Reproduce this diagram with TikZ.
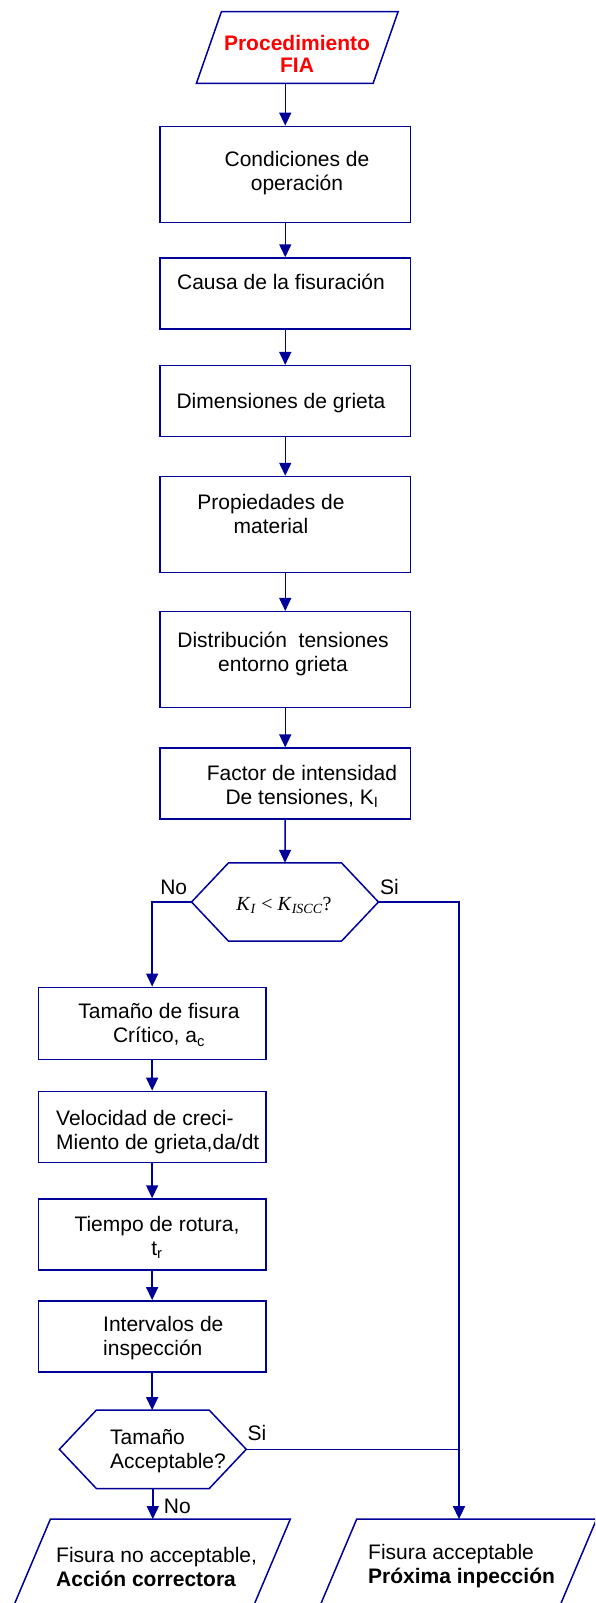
\documentclass[tikz,border=0pt]{standalone}
\usepackage{fontspec}
\setmainfont{Liberation Sans}
\newfontfamily\timesfont{Liberation Serif}
\usepackage{tikz}
\usetikzlibrary{arrows.meta,calc}
\definecolor{flowblue}{RGB}{0,0,153}
\tikzset{
LINE/.style ={draw=flowblue,line join=miter,line width=1.5pt},
ARROW/.style ={LINE,-{Triangle[length=13pt,width=12pt]}},
BOX/.style ={LINE,rectangle,minimum width=250.5pt,minimum height=71pt,inner sep=0pt},
TALLBOX/.style ={BOX,minimum height=96pt},
LEFTBOX/.style ={BOX,minimum width=227.7pt},
HOLDER/.style ={rectangle,inner sep=0pt,minimum width=186.5pt,minimum height=78pt},
TEXT/.style ={inner sep=0pt,align=center,font=\fontsize{21}{24}\selectfont},
LTEXT/.style ={TEXT,align=left,anchor=west},
}
\newcommand{\hexagonat}[1]{\draw[LINE] (#1.west) -- ($(#1.north west)+(37,0)$) -- ($(#1.north east)-(37,0)$) -- (#1.east) -- ($(#1.south east)-(37,0)$) -- ($(#1.south west)+(37,0)$) -- cycle;}
\newcommand{\parallelat}[2]{\draw[LINE] (#1.south west) -- ($(#1.north west)+(#2,0)$) -- (#1.north east) -- ($(#1.south east)-(#2,0)$) -- cycle;}

\begin{document}
\begin{tikzpicture}[x=1pt,y=-1pt] %FIA flowchart
	\useasboundingbox (0,0) rectangle (595,1603);
	\clip (0,0) rectangle (595,1603);
	% main column
	\node[HOLDER,minimum width=201.3pt,minimum height=71.3pt] (proc) at (297.3,47.4) {};
	\parallelat{proc}{25}
	\node[TEXT,text=red,font=\fontsize{21}{22}\selectfont\bfseries] (procT) at (297,54) {Procedimiento\\FIA};
	\node[TALLBOX] (cond) at (285.25,174.35) {};
	\node[TEXT] (condT) at (297,173.5) {Condiciones de\\operación};
	\node[BOX] (causa) at (285.25,293.5) {};
	\node[TEXT] (causaT) at (281,281.7) {Causa de la fisuración};
	\node[BOX] (dimen) at (285.25,401.2) {};
	\node[TEXT] (dimenT) at (281,403) {Dimensiones de grieta};
	\node[TALLBOX] (prop) at (285.25,524.5) {};
	\node[TEXT] (propT) at (271,514) {Propiedades de\\material};
	\node[TALLBOX] (distr) at (285.25,659.7) {};
	\node[TEXT] (distrT) at (283,653.5) {Distribución\ \ tensiones\\entorno grieta};
	\node[BOX] (factor) at (285.25,783.65) {};
	\node[TEXT] (factorT) at (302,786) {Factor de intensidad\\De tensiones, K\textsubscript{I}};
	\node[HOLDER] (hexA) at (285,902) {};
	\hexagonat{hexA}
	\node[TEXT,font=\timesfont\fontsize{20}{24}\selectfont] (hexAT) at (284,905) {\textit{K}\textsubscript{\textit{I}} < \textit{K}\textsubscript{\textit{ISCC}}?};
	% left column
	\node[LEFTBOX,minimum height=72pt] (tam) at (152.15,1023.3) {};
	\node[TEXT] (tamT) at (159,1025) {Tamaño de fisura\\Crítico, a\textsubscript{c}};
	\node[LEFTBOX] (vel) at (152.15,1126.85) {};
	\node[LTEXT] (velT) at (56,1132) {Velocidad de creci-\\Miento de grieta,da/dt};
	\node[LEFTBOX] (tiempo) at (152.15,1234.5) {};
	\node[TEXT] (tiempoT) at (157,1237.5) {Tiempo de rotura,\\t\textsubscript{r}};
	\node[LEFTBOX] (interv) at (152.15,1336.35) {};
	\node[LTEXT] (intervT) at (103,1338.5) {Intervalos de\\inspección};
	\node[HOLDER] (hexB) at (152.8,1449.3) {};
	\hexagonat{hexB}
	\node[LTEXT] (hexBT) at (110,1451) {Tamaño\\Acceptable?};
	% results
	\node[HOLDER,minimum width=282pt,minimum height=100pt] (nok) at (149.1,1569.3) {};
	\parallelat{nok}{42.5}
	\node[LTEXT] (nokT) at (56,1566.5) {Fisura no acceptable,\\\textbf{Acción correctora}};
	\node[HOLDER,minimum width=282pt,minimum height=100pt] (okp) at (455.4,1569.3) {};
	\parallelat{okp}{42.5}
	\node[LTEXT] (okT) at (368,1566.5) {Fisura acceptable\\\textbf{Próxima inpección}};
	% connectors
	\draw[ARROW] (proc.south -| cond.north) -- (cond.north);
	\draw[ARROW] (cond) -- (causa);
	\draw[ARROW] (causa) -- (dimen);
	\draw[ARROW] (dimen) -- (prop);
	\draw[ARROW] (prop) -- (distr);
	\draw[ARROW] (distr) -- (factor);
	\draw[ARROW] (factor.south) -- (hexA.north);
	\draw[ARROW] (hexA.west) -| (tam.north);
	\coordinate (rail) at (459,902);
	\draw[ARROW] (hexA.east) -- (rail) -- (rail |- okp.north);
	\draw[ARROW] (tam) -- (vel);
	\draw[ARROW] (vel) -- (tiempo);
	\draw[ARROW] (tiempo) -- (interv);
	\draw[ARROW] (interv.south) -- (interv.south |- hexB.north);
	\draw[LINE] (hexB.east) -- (rail |- hexB.east);
	\draw[ARROW] (hexB.south) -- (hexB.south |- nok.north);
	\node[TEXT] (noA) at (173.7,887.3) {No};
	\node[TEXT] (siA) at (389.5,887.3) {Si};
	\node[TEXT] (siB) at (257,1433.3) {Si};
	\node[TEXT] (noB) at (177.3,1506.7) {No};
\end{tikzpicture}
\end{document}
